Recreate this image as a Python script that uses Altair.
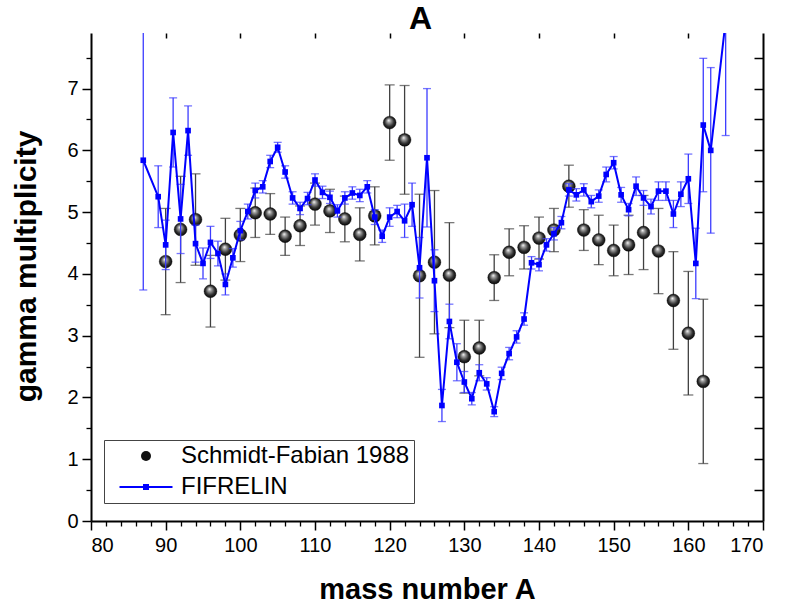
import altair as alt
import pandas as pd

# ---------------- data ----------------
sf_A = [90, 92, 94, 96, 98, 100, 102, 104, 106, 108,
        110, 112, 114, 116, 118, 120, 122, 124, 126, 128,
        130, 132, 134, 136, 138, 140, 142, 144, 146, 148,
        150, 152, 154, 156, 158, 160, 162]
sf_val = [4.20, 4.72, 4.88, 3.72, 4.40, 4.63, 4.99, 4.97, 4.61, 4.78,
          5.13, 5.02, 4.89, 4.64, 4.94, 6.45, 6.17, 3.97, 4.19, 3.98,
          2.66, 2.80, 3.94, 4.35, 4.43, 4.58, 4.71, 5.42, 4.71, 4.55,
          4.38, 4.47, 4.67, 4.37, 3.57, 3.04, 2.26]
sf_err = [0.86, 0.86, 0.74, 0.58, 0.50, 0.43, 0.40, 0.33, 0.31, 0.32,
          0.34, 0.35, 0.37, 0.43, 0.47, 0.61, 0.88, 1.32, 1.16, 0.85,
          0.59, 0.45, 0.37, 0.38, 0.35, 0.34, 0.35, 0.34, 0.33, 0.40,
          0.41, 0.48, 0.60, 0.69, 0.79, 1.00, 1.33]

fif_A = [87, 89, 90, 91, 92, 93, 94, 95, 96, 97,
         98, 99, 100, 101, 102, 103, 104, 105, 106, 107,
         108, 109, 110, 111, 112, 113, 114, 115, 116, 117,
         118, 119, 120, 121, 122, 123, 124, 125, 126, 127,
         128, 129, 130, 131, 132, 133, 134, 135, 136, 137,
         138, 139, 140, 141, 142, 143, 144, 145, 146, 147,
         148, 149, 150, 151, 152, 153, 154, 155, 156, 157,
         158, 159, 160, 161, 162, 163, 165]
fif_val = [5.84, 5.25, 4.47, 6.29, 4.89, 6.32, 4.49, 4.17, 4.51, 4.33,
           3.83, 4.26, 4.70, 5.01, 5.35, 5.41, 5.82, 6.05, 5.65, 5.23,
           5.06, 5.22, 5.52, 5.32, 5.24, 5.02, 5.23, 5.31, 5.27, 5.41,
           4.92, 4.61, 4.92, 5.01, 4.86, 5.12, 4.10, 5.88, 3.89, 1.87,
           3.23, 2.57, 2.25, 1.98, 2.40, 2.22, 1.77, 2.39, 2.71, 2.98,
           3.27, 4.18, 4.15, 4.47, 4.65, 4.83, 5.36, 5.28, 5.36, 5.17,
           5.26, 5.61, 5.80, 5.28, 5.04, 5.42, 5.23, 5.09, 5.34, 5.34,
           4.97, 5.29, 5.54, 4.17, 6.41, 6.00, 8.10]
fif_err = [2.10, 0.50, 0.40, 0.56, 0.56, 0.40, 0.30, 0.25, 0.26, 0.20,
           0.17, 0.15, 0.15, 0.12, 0.12, 0.10, 0.10, 0.08, 0.10, 0.10,
           0.10, 0.10, 0.10, 0.10, 0.10, 0.10, 0.10, 0.10, 0.10, 0.10,
           0.12, 0.10, 0.15, 0.10, 0.27, 0.35, 0.49, 1.12, 0.50, 0.26,
           0.28, 0.30, 0.17, 0.10, 0.13, 0.10, 0.08, 0.10, 0.10, 0.10,
           0.10, 0.10, 0.10, 0.10, 0.10, 0.10, 0.10, 0.10, 0.10, 0.10,
           0.10, 0.12, 0.10, 0.12, 0.10, 0.15, 0.12, 0.12, 0.15, 0.15,
           0.22, 0.20, 0.40, 0.57, 1.08, 1.34, 1.86]

series_names = ["Schmidt-Fabian 1988", "FIFRELIN"]
chart_title = "A"
x_title = "mass number A"
y_title = "gamma multiplicity"
x_major = [80, 90, 100, 110, 120, 130, 140, 150, 160, 170]
x_minor = [82, 84, 86, 88, 92, 94, 96, 98, 102, 104, 106, 108, 112, 114, 116, 118,
           122, 124, 126, 128, 132, 134, 136, 138, 142, 144, 146, 148, 152, 154,
           156, 158, 162, 164, 166, 168]
x_top = [90, 100, 110, 120, 130, 140, 150, 160]
y_major = [0, 1, 2, 3, 4, 5, 6, 7]
y_minor = [0.5, 1.5, 2.5, 3.5, 4.5, 5.5, 6.5, 7.5]
y_right = [0.5, 1, 1.5, 2, 2.5, 3, 3.5, 4, 4.5, 5, 5.5, 6, 6.5, 7, 7.5]

sf = pd.DataFrame({"A": sf_A, "M": sf_val, "err": sf_err})
fif = pd.DataFrame({"A": fif_A, "M": fif_val, "err": fif_err})
leg_df = pd.DataFrame({"series": series_names})

FONT = "Liberation Sans"
W, H = 672, 488

xs = alt.Scale(domain=[80, 170], nice=False, zero=False)
ys = alt.Scale(domain=[0, 7.9], nice=False, zero=False)

NOAX = None

ax_x_major = alt.Axis(orient="bottom", values=x_major, format="d", tickSize=9, tickWidth=1.5,
                      labelPadding=5, domain=True, domainWidth=2, title=x_title,
                      titleFontSize=29, titleX=336, titleY=77, titleAlign="center",
                      titleBaseline="alphabetic", grid=False)
ax_y_major = alt.Axis(orient="left", values=y_major, format="d", tickSize=9, tickWidth=1.5,
                      labelPadding=4, domain=True, domainWidth=2, title=y_title,
                      titleFontSize=30, titleX=-56, titleY=233, titleAngle=-90,
                      titleAlign="center", titleBaseline="alphabetic", grid=False)
ax_x_minor = alt.Axis(orient="bottom", values=x_minor, tickSize=5, tickWidth=1.3,
                      labels=False, domain=False, title=None, grid=False)
ax_y_minor = alt.Axis(orient="left", values=y_minor, tickSize=5, tickWidth=1.3,
                      labels=False, domain=False, title=None, grid=False)
ax_x_top = alt.Axis(orient="top", values=x_top, tickSize=5, tickWidth=1.5, offset=-5,
                    labels=False, domain=False, title=chart_title,
                    titleFontSize=32, titleX=329, titleY=-10, titleAlign="center",
                    titleBaseline="alphabetic", grid=False)
ax_y_right = alt.Axis(orient="right", values=y_right, tickSize=9, tickWidth=1.5, offset=-9,
                      labels=False, domain=False, title=None, grid=False)
ax_y_right_dom = alt.Axis(orient="right", ticks=False, labels=False, domain=True,
                          domainWidth=2, title=None, grid=False)

base_sf = alt.Chart(sf).transform_calculate(lo="datum.M - datum.err", hi="datum.M + datum.err")
base_fif = alt.Chart(fif).transform_calculate(lo="datum.M - datum.err", hi="datum.M + datum.err")

SF_ERR = "#404040"
FIF_ERR = "#3c3cff"

sf_rule = base_sf.mark_rule(color=SF_ERR, strokeWidth=1.3, clip=True).encode(
    x=alt.X("A:Q", scale=xs, axis=NOAX),
    y=alt.Y("lo:Q", scale=ys, axis=ax_y_right_dom),
    y2="hi:Q",
)
sf_cap_lo = base_sf.mark_tick(color=SF_ERR, orient="horizontal", size=10, thickness=1.3,
                              clip=True).encode(
    x=alt.X("A:Q", scale=xs, axis=NOAX), y=alt.Y("lo:Q", scale=ys, axis=NOAX))
sf_cap_hi = base_sf.mark_tick(color=SF_ERR, orient="horizontal", size=10, thickness=1.3,
                              clip=True).encode(
    x=alt.X("A:Q", scale=xs, axis=NOAX), y=alt.Y("hi:Q", scale=ys, axis=NOAX))

sphere_fill = alt.RadialGradient(
    gradient="radial",
    stops=[alt.GradientStop(color="#ffffff", offset=0),
           alt.GradientStop(color="#a0a0a0", offset=0.25),
           alt.GradientStop(color="#303030", offset=0.65),
           alt.GradientStop(color="#000000", offset=1)],
    x1=0.42, y1=0.32, r1=0, x2=0.5, y2=0.5, r2=0.55)

sf_pts = base_sf.mark_point(shape="circle", filled=True, fill=sphere_fill, size=165,
                            stroke="#000000", strokeWidth=0.4, opacity=1, clip=True).encode(
    x=alt.X("A:Q", scale=xs, axis=ax_x_top),
    y=alt.Y("M:Q", scale=ys, axis=ax_y_right),
)

fif_rule = base_fif.mark_rule(color=FIF_ERR, strokeWidth=1.3, clip=True).encode(
    x=alt.X("A:Q", scale=xs, axis=NOAX),
    y=alt.Y("lo:Q", scale=ys, axis=NOAX),
    y2="hi:Q",
)
fif_cap_lo = base_fif.mark_tick(color=FIF_ERR, orient="horizontal", size=8, thickness=1.3,
                                clip=True).encode(
    x=alt.X("A:Q", scale=xs, axis=NOAX), y=alt.Y("lo:Q", scale=ys, axis=NOAX))
fif_cap_hi = base_fif.mark_tick(color=FIF_ERR, orient="horizontal", size=8, thickness=1.3,
                                clip=True).encode(
    x=alt.X("A:Q", scale=xs, axis=NOAX), y=alt.Y("hi:Q", scale=ys, axis=NOAX))

fif_line = base_fif.mark_line(color="#0000ff", strokeWidth=2, clip=True).encode(
    x=alt.X("A:Q", scale=xs, axis=ax_x_major),
    y=alt.Y("M:Q", scale=ys, axis=ax_y_major),
)
fif_pts = base_fif.mark_point(shape="square", filled=True, color="#0000ff", size=32,
                              opacity=1, clip=True).encode(
    x=alt.X("A:Q", scale=xs, axis=ax_x_minor),
    y=alt.Y("M:Q", scale=ys, axis=ax_y_minor),
)

line_sym = "M-5.3,-0.2H5.3V0.2H-5.3Z M-0.6,-0.6H0.6V0.6H-0.6Z"
leg = alt.Legend(orient="none", legendX=13, legendY=407, title=None,
                 padding=4, strokeColor="#444444", fillColor="white",
                 labelFont=FONT, labelFontSize=24, labelColor="black", labelLimit=400,
                 symbolSize=100, symbolOffset=26, labelOffset=23, rowPadding=7,
                 symbolStrokeWidth=0, symbolOpacity=1)
legend_layer = alt.Chart(leg_df).mark_point(filled=True, opacity=0).encode(
    color=alt.Color("series:N", scale=alt.Scale(domain=series_names,
                                                range=["#111111", "#0000ff"]), legend=leg),
    shape=alt.Shape("series:N", scale=alt.Scale(domain=series_names,
                                                range=["circle", line_sym]), legend=leg),
)

chart = alt.layer(
    sf_rule, sf_cap_lo, sf_cap_hi, sf_pts,
    fif_rule, fif_cap_lo, fif_cap_hi, fif_line, fif_pts,
    legend_layer,
).resolve_axis(x="independent", y="independent").properties(
    width=W, height=H,
    autosize=alt.AutoSizeParams(type="none"),
    padding={"left": 91, "top": 33, "right": 26, "bottom": 84},
    background="white",
).configure_view(stroke=None).configure_axis(
    grid=False, domainColor="black", tickColor="black",
    labelFont=FONT, labelFontSize=20, labelColor="black",
    titleFont=FONT, titleFontSize=28, titleFontWeight="bold", titleColor="black",
)

chart.save("out.html", embed_options={"renderer": "svg", "actions": False})
